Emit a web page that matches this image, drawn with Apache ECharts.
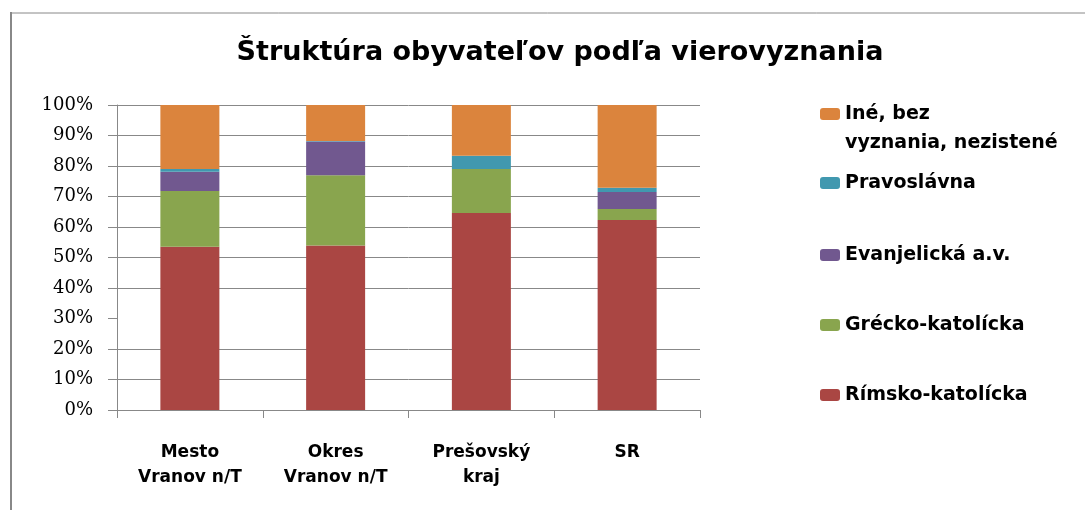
<!DOCTYPE html>
<html>
<head>
<meta charset="utf-8">
<script src="https://cdn.jsdelivr.net/npm/echarts@6/dist/echarts.min.js"></script>
<style>
  html, body { margin: 0; padding: 0; background: #fff; }
  #chart { width: 1085px; height: 510px; }
</style>
</head>
<body>
<div id="chart"></div>
<script>
// kategórie a hodnoty (%)
const categories = ['Mesto\nVranov n/T', 'Okres\nVranov n/T', 'Prešovský\nkraj', 'SR'];
const rimskoKat = [53.5, 53.9, 64.6, 62.3];
const greckoKat = [18.3, 23.1, 14.4, 3.6];
const evanjelicka = [6.3, 11.0, 0.0, 5.6];
const pravoslavna = [0.9, 0.2, 4.4, 1.4];
const ineBez = [21.0, 11.8, 16.6, 27.1];
// mriežka – čiara 30 % na originále chýba
const gridTicks = [10, 20, 40, 50, 60, 70, 80, 90, 100];

const names = ['Rímsko-katolícka', 'Grécko-katolícka', 'Evanjelická a.v.', 'Pravoslávna', 'Iné, bez vyznania, nezistené'];
const colors = ['#AA4643', '#89A54E', '#71588F', '#4198AF', '#DB843D'];
const values = [rimskoKat, greckoKat, evanjelicka, pravoslavna, ineBez];

const chart = echarts.init(document.getElementById('chart'));

const gridColor = '#888888';
const sansFont = 'DejaVu Sans';

// legenda – každá položka zvlášť, aby sedeli pozície (stred ikony)
const legendCenters = [395, 325, 255, 183, 114];
const legends = names.map((n, i) => {
  const multi = i === 4;
  return {
    data: [n],
    left: 815,
    top: multi ? legendCenters[i] - 5 - 43.5 : legendCenters[i] - 15,
    itemWidth: 20,
    itemHeight: 12,
    itemGap: 0,
    selectedMode: false,
    // prázdny prvý riadok, aby ikona stála pri prvom riadku textu
    formatter: multi ? ' \nIné, bez\nvyznania, nezistené' : '{name}',
    textStyle: {
      fontFamily: sansFont,
      fontWeight: 'bold',
      fontSize: 19,
      color: '#000',
      lineHeight: multi ? 29 : 20
    }
  };
});

const option = {
  animation: false,
  backgroundColor: '#fff',
  title: {
    text: 'Štruktúra obyvateľov podľa vierovyznania',
    left: 555,
    textAlign: 'center',
    top: 34,
    textStyle: {
      fontFamily: sansFont,
      fontWeight: 'bold',
      fontSize: 27,
      color: '#000'
    }
  },
  legend: legends,
  grid: { left: 117, right: 385, top: 105, bottom: 100 },
  xAxis: {
    type: 'category',
    data: categories,
    axisLine: { lineStyle: { color: gridColor, width: 1 } },
    axisTick: { show: true, length: 8, lineStyle: { color: gridColor } },
    axisLabel: {
      margin: 30,
      fontFamily: sansFont,
      fontWeight: 'bold',
      fontSize: 17,
      lineHeight: 25,
      color: '#000'
    }
  },
  yAxis: {
    type: 'value',
    min: 0,
    max: 100,
    interval: 10,
    axisLine: { show: true, lineStyle: { color: gridColor, width: 1 } },
    axisTick: { show: true, length: 9, lineStyle: { color: gridColor } },
    axisLabel: {
      formatter: '{value}%',
      margin: 24,
      fontFamily: 'DejaVu Serif',
      fontSize: 18,
      color: '#000'
    },
    splitLine: { show: false }
  },
  series: [
    // vodorovné čiary mriežky pod stĺpcami
    {
      type: 'line',
      data: [],
      z: 0,
      silent: true,
      markLine: {
        z: 0,
        silent: true,
        animation: false,
        symbol: 'none',
        label: { show: false },
        lineStyle: { color: gridColor, width: 1, type: 'solid', opacity: 1 },
        emphasis: { disabled: true },
        data: gridTicks.map(v => ({ yAxis: v }))
      }
    }
  ].concat(names.map((n, i) => ({
    name: n,
    type: 'bar',
    stack: 'total',
    barWidth: 59,
    z: 5,
    data: values[i],
    itemStyle: { color: colors[i], opacity: 1 }
  }))),
  graphic: [
    { type: 'line', shape: { x1: 10, y1: 13, x2: 1085, y2: 13 }, style: { stroke: gridColor, lineWidth: 1 } },
    { type: 'line', shape: { x1: 11, y1: 12, x2: 11, y2: 510 }, style: { stroke: gridColor, lineWidth: 2 } }
  ]
};

chart.setOption(option);
window.addEventListener('resize', () => chart.resize());
</script>
</body>
</html>
